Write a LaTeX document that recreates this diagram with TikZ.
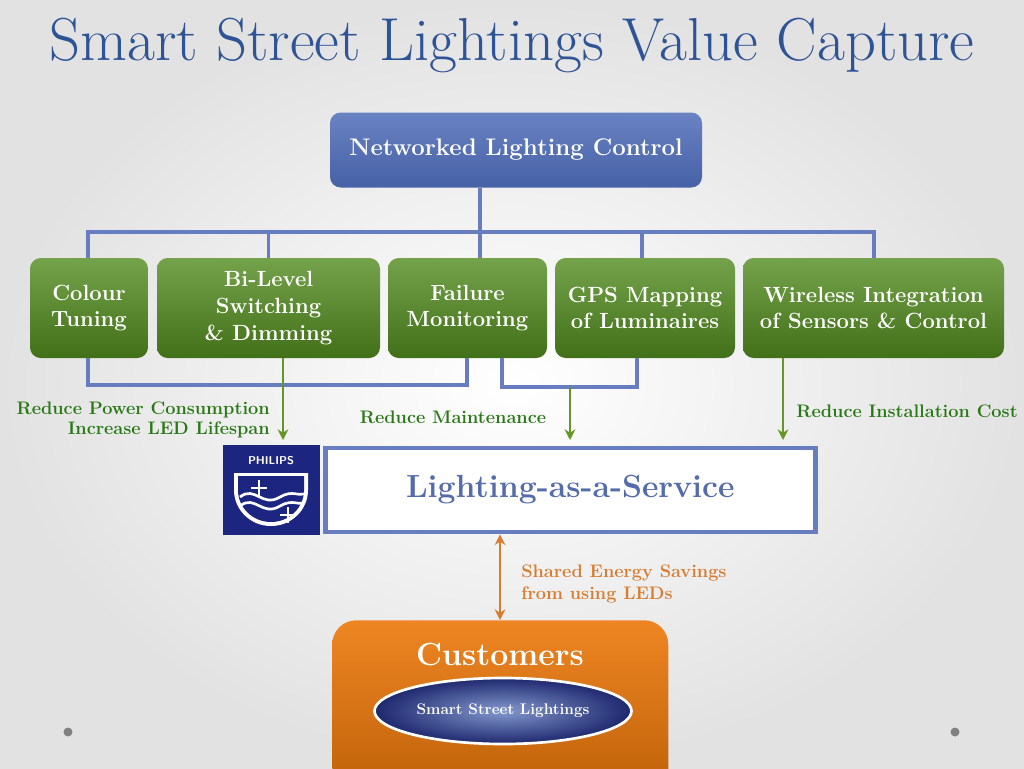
\documentclass[tikz,border=0pt]{standalone}
\usetikzlibrary{positioning,arrows.meta,shapes.geometric}
\definecolor{bgray}{RGB}{226,226,226}
\definecolor{titleblue}{RGB}{47,84,150}
\definecolor{topblue}{RGB}{78,108,184}
\definecolor{linkblue}{RGB}{104,124,192}
\definecolor{boxgreen}{RGB}{82,140,30}
\definecolor{txtgreen}{RGB}{40,120,20}
\definecolor{arrgreen}{RGB}{100,150,40}
\definecolor{lasblue}{RGB}{84,108,170}
\definecolor{philblue}{RGB}{28,38,128}
\definecolor{custorange}{RGB}{236,120,10}
\definecolor{txtorange}{RGB}{216,124,48}
\definecolor{navy}{RGB}{30,40,110}
\tikzstyle{topblock} = [draw=none, rounded corners=8pt, top color=topblue!85!white, bottom color=topblue!90!black,
    text=white, font=\fontsize{18}{21}\selectfont\bfseries, align=center]
\tikzstyle{gblock} = [draw=none, rounded corners=8pt, top color=boxgreen!80!white, bottom color=boxgreen!80!black,
    text=white, font=\fontsize{16.5}{20}\selectfont\bfseries, align=center]
\tikzstyle{link} = [draw=linkblue, line width=2.4pt]
\tikzstyle{garrow} = [draw=arrgreen, line width=1.6pt, -{Stealth[length=8pt,width=8pt]}]
\tikzstyle{glabel} = [text=txtgreen, font=\fontsize{13.6}{15}\selectfont\bfseries, inner sep=0pt]
\begin{document}
\begin{tikzpicture}[x=0.75pt,y=-0.75pt]
\useasboundingbox (0,0) rectangle (1024,768);
\shade[inner color=white, outer color=bgray] (0,0) rectangle (1024,768);

\node (title) [text=titleblue, font=\fontsize{45.5}{48}\selectfont] at (512,45) {Smart Street Lightings Value Capture};

\node (nlc) [topblock, minimum width=372*0.75pt, minimum height=75*0.75pt] at (516,150) {Networked Lighting Control};

% green row
\node (colour) [gblock, minimum width=118*0.75pt, minimum height=100*0.75pt] at (89,308) {Colour\\Tuning};
\node (bilevel) [gblock, minimum width=223*0.75pt, minimum height=100*0.75pt] at (268.5,308) {Bi-Level\\Switching\\\& Dimming};
\node (failure) [gblock, minimum width=159*0.75pt, minimum height=100*0.75pt] at (467.5,308) {Failure\\Monitoring};
\node (gps) [gblock, minimum width=180*0.75pt, minimum height=100*0.75pt] at (645,308) {GPS Mapping\\of Luminaires};
\node (wireless) [gblock, minimum width=261*0.75pt, minimum height=100*0.75pt] at (873.5,308) {Wireless Integration\\of Sensors \& Control};

\coordinate (bus) at (480,232);
\path[link] (nlc.south -| bus) -- (bus);
\path[link] (colour.north -| 88,0) |- (bus) -| (wireless.north -| 874,0);
\path[link] (bilevel.north) -- (bilevel.north |- bus);
\path[link] (failure.north -| bus) -- (bus);
\path[link] (gps.north -| 642,0) -- (642,232);

% brackets below
\path[link] (colour.south -| 88,0) |- (467,385) -- (failure.south -| 467,0);
\path[link] (failure.south -| 502,0) |- (637,387) -- (gps.south -| 637,0);

% service row
\node (philips) [fill=philblue, minimum width=97*0.75pt, minimum height=90*0.75pt, anchor=north west, inner sep=0pt] at (223,445) {};
\node (las) [draw=linkblue, line width=3.5pt, fill=white, minimum width=490*0.75pt, minimum height=84*0.75pt,
    anchor=west, text=lasblue, font=\fontsize{24}{27}\selectfont\bfseries] at (323,490) {Lighting-as-a-Service};
\fill[white] (234,473) -- (308,473) -- (308,490) arc (0:180:37 and 36) -- cycle;
\fill[philblue] (238,476) -- (304,476) -- (304,490) arc (0:180:33 and 32) -- cycle;
\node (philtxt) [text=white, font=\fontsize{8.5}{9}\sffamily\bfseries, inner sep=0pt] at (271,461) {PHILIPS};
\draw[white, line width=2pt] (240,497) .. controls (255,485) and (262,508) .. (280,497) .. controls (292,490) and (298,496) .. (304,494);
\draw[white, line width=2pt] (240,506) .. controls (255,494) and (262,517) .. (280,506) .. controls (292,499) and (298,505) .. (304,503);
\draw[white, line width=1pt] (259,480) -- (259,496) (251,488) -- (267,488) (288,507) -- (288,523) (280,515) -- (296,515);

\path[garrow] (bilevel.south -| 283,0) -- (283,440);
\path[garrow] (570,387) -- (570,440);
\path[garrow] (wireless.south -| 783,0) -- (783,440);

\node (power) [glabel, anchor=east, align=right] at (270,420) {Reduce Power Consumption\\Increase LED Lifespan};
\node (maint) [glabel] at (453,417) {Reduce Maintenance};
\node (install) [glabel] at (907,411) {Reduce Installation Cost};

% customers
\node (cust) [rounded corners=18pt, top color=custorange!90!white, bottom color=custorange!80!black,
    minimum width=336*0.75pt, minimum height=180*0.75pt, anchor=north west, inner sep=0pt] at (332,620) {};
\node (custtxt) [text=white, font=\fontsize{24}{27}\selectfont\bfseries] at (500,655) {Customers};
\node (street) [ellipse, draw=white, line width=2pt, inner color=topblue!70!white, outer color=navy,
    minimum width=234*0.75pt, minimum height=66*0.75pt, text=white, font=\fontsize{11.5}{13}\selectfont\bfseries] at (503,711) {Smart Street Lightings};

\draw[draw=txtorange, line width=2pt, {Stealth[length=8pt,width=8pt]}-{Stealth[length=8pt,width=8pt]}] (las.south -| 500,0) -- (cust.north -| 500,0);
\node (shared) [text=txtorange, font=\fontsize{13.6}{17}\selectfont\bfseries, anchor=west, align=left, inner sep=0pt] at (521,584) {Shared Energy Savings\\from using LEDs};

\fill[gray] (68,732) circle (4.5);
\fill[gray] (955,732) circle (4.5);
\end{tikzpicture}
\end{document}
